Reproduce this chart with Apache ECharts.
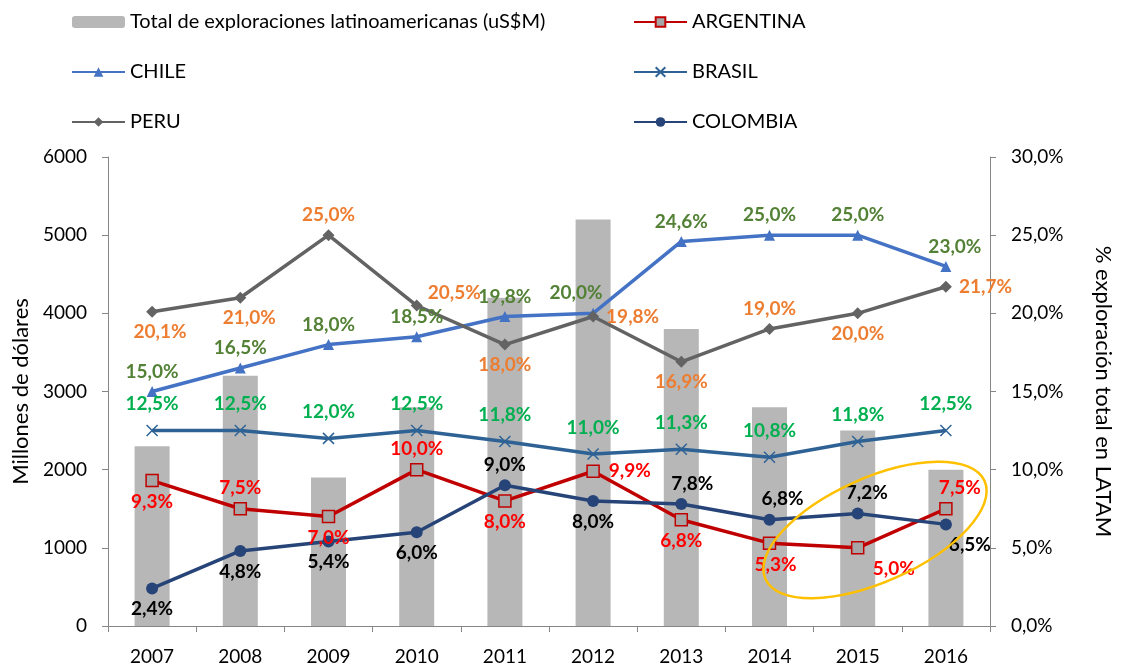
<!DOCTYPE html>
<html>
<head>
<meta charset="utf-8">
<script src="https://cdn.jsdelivr.net/npm/echarts@6/dist/echarts.min.js"></script>
<style>
  html, body { margin: 0; padding: 0; background: #fff; }
  #main { width: 1122px; height: 671px; }
</style>
</head>
<body>
<div id="main"></div>
<script>
const years = ['2007', '2008', '2009', '2010', '2011', '2012', '2013', '2014', '2015', '2016'];
const total = [2300, 3200, 1900, 2800, 4200, 5200, 3800, 2800, 2500, 2000];
const argentina = [9.3, 7.5, 7.0, 10.0, 8.0, 9.9, 6.8, 5.3, 5.0, 7.5];
const chile = [15.0, 16.5, 18.0, 18.5, 19.8, 20.0, 24.6, 25.0, 25.0, 23.0];
const brasil = [12.5, 12.5, 12.0, 12.5, 11.8, 11.0, 11.3, 10.8, 11.8, 12.5];
const peru = [20.1, 21.0, 25.0, 20.5, 18.0, 19.8, 16.9, 19.0, 20.0, 21.7];
const colombia = [2.4, 4.8, 5.4, 6.0, 9.0, 8.0, 7.8, 6.8, 7.2, 6.5];

// where each value label sits around its point
const argPos = ['bottom', 'top', 'bottom', 'top', 'bottom', 'right', 'bottom', 'bottom', 'bottom', 'top'];
const topPos = ['top', 'top', 'top', 'top', 'top', 'top', 'top', 'top', 'top', 'top'];
const peruPos = ['bottom', 'bottom', 'top', 'right', 'bottom', 'right', 'bottom', 'top', 'bottom', 'right'];
const colPos = ['bottom', 'bottom', 'bottom', 'bottom', 'top', 'bottom', 'top', 'top', 'top', 'bottom'];

const argOff = [[0, 0], [0, 0], [0, 0], [0, 0], [0, 0], [4, 0], [0, 0], [6, 0], [36, 0], [14, 0]];
const chiOff = [[0, 0], [0, 0], [0, 0], [0, 0], [0, 0], [-17, 0], [0, 0], [0, 0], [0, 0], [9, 0]];
const braOff = [[0, -4], [0, -4], [0, -4], [0, -4], [0, -4], [0, -4], [0, -4], [0, -4], [0, -4], [0, -4]];
const peruOff = [[8, 0], [9, 0], [0, 0], [0, -13], [0, 0], [2, 0], [0, 0], [0, 0], [0, 0], [2, 0]];
const colOff = [[0, 0], [0, 0], [0, 0], [0, 0], [0, 0], [0, 0], [11, 0], [13, 0], [9, 0], [24, 0]];

const FONT = 'Lato, "Liberation Sans", sans-serif';
const pct = v => v.toFixed(1).replace('.', ',') + '%';

function withLabels(values, pos, offsets) {
    return values.map((v, i) => ({
        value: v,
        label: { position: pos[i], offset: offsets[i] }
    }));
}

function lineSeries(name, data, lineColor, symbol, symbolSize, itemStyle, labelColor) {
    return {
        name: name,
        type: 'line',
        yAxisIndex: 1,
        data: data,
        symbol: symbol,
        symbolSize: symbolSize,
        lineStyle: { color: lineColor, width: 3.5 },
        itemStyle: itemStyle,
        label: {
            show: true,
            color: labelColor,
            fontFamily: FONT,
            fontWeight: 'bold',
            fontSize: 19,
            distance: 5,
            formatter: p => pct(p.value)
        },
        z: 3
    };
}

const legendText = { fontSize: 20, lineHeight: 20, color: '#000', fontFamily: FONT };

const chart = echarts.init(document.getElementById('main'));
chart.setOption({
    animation: false,
    textStyle: { fontFamily: FONT },
    legend: [{
        left: 66, top: 7, orient: 'vertical', itemGap: 30,
        itemWidth: 53, itemHeight: 12,
        textStyle: legendText,
        data: ['Total de exploraciones latinoamericanas (uS$M)', 'CHILE', 'PERU']
    }, {
        left: 628, top: 7, orient: 'vertical', itemGap: 30,
        itemWidth: 53, itemHeight: 12,
        textStyle: legendText,
        data: ['ARGENTINA', 'BRASIL', 'COLOMBIA']
    }],
    grid: { left: 108, right: 122, top: 157, bottom: 45 },
    xAxis: {
        type: 'category',
        data: years,
        axisLine: { lineStyle: { color: '#868686' } },
        axisTick: { show: true, length: 6, lineStyle: { color: '#868686' } },
        axisLabel: { color: '#000', fontSize: 19, margin: 21, fontFamily: FONT }
    },
    yAxis: [{
        type: 'value', min: 0, max: 6000, interval: 1000,
        name: 'Millones de dólares', nameLocation: 'middle', nameGap: 76,
        nameTextStyle: { fontSize: 22, color: '#000', fontFamily: FONT },
        axisLine: { show: true, lineStyle: { color: '#868686' } },
        axisTick: { show: true, length: 6, lineStyle: { color: '#868686' } },
        axisLabel: { color: '#000', fontSize: 19, margin: 21, fontFamily: FONT, formatter: v => String(v) },
        splitLine: { show: false }
    }, {
        type: 'value', min: 0, max: 30, interval: 5, position: 'right',
        name: '% exploración total en LATAM', nameLocation: 'middle', nameGap: 102, nameRotate: -90,
        nameTextStyle: { fontSize: 22, color: '#000', fontFamily: FONT },
        axisLine: { show: true, lineStyle: { color: '#868686' } },
        axisTick: { show: true, length: 6, lineStyle: { color: '#868686' } },
        axisLabel: { color: '#000', fontSize: 19, margin: 21, fontFamily: FONT, formatter: v => pct(v) },
        splitLine: { show: false }
    }],
    series: [{
        name: 'Total de exploraciones latinoamericanas (uS$M)',
        type: 'bar',
        data: total,
        barWidth: 35,
        itemStyle: { color: '#b7b7b7' },
        z: 1
    },
    lineSeries('ARGENTINA', withLabels(argentina, argPos, argOff),
        '#c00000', 'rect', 12, { color: '#a6a6a6', borderColor: '#c00000', borderWidth: 1.5 }, '#ff0000'),
    lineSeries('CHILE', withLabels(chile, topPos, chiOff),
        '#4472c4', 'triangle', 11, { color: '#4472c4' }, '#538135'),
    lineSeries('BRASIL', withLabels(brasil, topPos, braOff),
        '#2e6295', 'path://M0,0L10,10M10,0L0,10', 11, { color: 'none', borderColor: '#2e6295', borderWidth: 1.5 }, '#00b050'),
    lineSeries('PERU', withLabels(peru, peruPos, peruOff),
        '#636363', 'diamond', 12, { color: '#636363' }, '#ed7d31'),
    lineSeries('COLOMBIA', withLabels(colombia, colPos, colOff),
        '#264478', 'circle', 12, { color: '#264478' }, '#000')
    ],
    graphic: [{
        type: 'ellipse',
        shape: { cx: 0, cy: 0, rx: 120, ry: 52 },
        x: 875, y: 530,
        rotation: 0.42,
        style: { fill: 'none', stroke: '#ffc000', lineWidth: 2.5 },
        z: 10
    }]
});
</script>
</body>
</html>
